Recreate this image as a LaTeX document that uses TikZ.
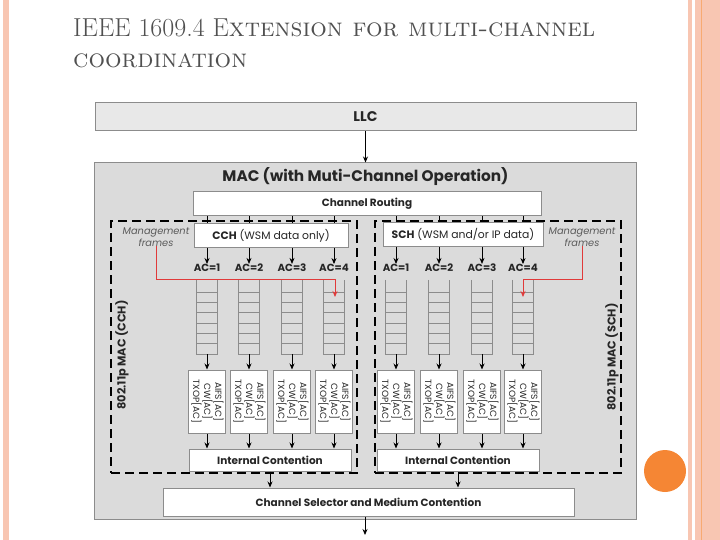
\documentclass[tikz,border=0pt]{standalone}
\usepackage{fontspec}
\usepackage{graphicx}
\newfontfamily\diagfont{Poppins}
\usepackage{tikz}
\usetikzlibrary{arrows.meta, positioning}
\definecolor{salmon}{HTML}{F8C6B2}
\definecolor{dotorange}{HTML}{F58634}
\definecolor{macgray}{HTML}{DBDBDB}
\definecolor{llcgray}{HTML}{E8E8E8}
\definecolor{edgegray}{HTML}{8C8C8C}
\definecolor{titlegray}{HTML}{505050}
\definecolor{mgmtred}{HTML}{E03A3A}
\tikzset{
    layer/.style={
        rectangle, draw=edgegray, fill=llcgray, line width=1pt, inner sep=0pt,
        minimum width=541pt, minimum height=28pt, text=black!85,
        font=\diagfont\bfseries\fontsize{14}{16}\selectfont
    },
    whitebox/.style={
        rectangle, draw=edgegray, fill=white, line width=1pt, inner sep=0pt,
        text=black!85, font=\diagfont\bfseries\fontsize{10.5}{12}\selectfont
    },
    chanbox/.style={whitebox, font=\diagfont\fontsize{10.8}{12}\selectfont},
    parambox/.style={whitebox, minimum width=37pt, minimum height=63pt,
        font=\diagfont\fontsize{9}{8.6}\selectfont},
    queue/.style={rectangle, inner sep=0pt, minimum width=21pt, minimum height=74pt},
    queueline/.style={draw=edgegray, line width=0.8pt},
    acnode/.style={inner sep=0pt, text=black!85, font=\diagfont\bfseries\fontsize{10.3}{12}\selectfont},
    mgmt/.style={inner sep=0pt, align=center, text=black!65, font=\diagfont\itshape\fontsize{9.8}{11.5}\selectfont},
    sidelabel/.style={rotate=90, inner sep=0pt, text=black!85, font=\diagfont\bfseries\fontsize{11.3}{13}\selectfont},
    chframe/.style={rectangle, draw=black, dash pattern=on 9pt off 5pt, line width=1.6pt,
        minimum width=246pt, minimum height=252pt, inner sep=0pt},
    arrow/.style={line width=0.8pt, -{Stealth[length=6pt,width=5pt]}},
    redarrow/.style={arrow, draw=mgmtred}
}

\begin{document}
\begin{tikzpicture}[x=1pt, y=-1pt]
    \useasboundingbox (0,0) rectangle (720,540);
    % slide decoration
    \fill[salmon] (3,0) rectangle (9,540);
    \fill[salmon] (688,0) rectangle (720,540);
    \fill[white] (692,0) rectangle (695,540);
    \draw[dotorange!70, line width=0.8pt] (701,0) -- (701,540);
    \fill[dotorange] (665,471) circle (21);
    \node (title) [anchor=base west, inner sep=0pt, text=titlegray, font=\fontsize{26}{30}\selectfont]
        at (73,37) {IEEE 1609.4 E\textsc{xtension for multi-channel}};
    \node (title2) [anchor=base west, inner sep=0pt, text=titlegray, font=\fontsize{26}{30}\selectfont]
        at (73,68) {\textsc{coordination}};

    % layers
    \node (llc) [layer] at (365.5,117) {LLC};
    \node (mac) [layer, fill=macgray, minimum width=542pt, minimum height=356pt] at (365.5,341) {};
    \node (mactitle) [inner sep=0pt, text=black!85, font=\diagfont\bfseries\fontsize{15.3}{17}\selectfont]
        at (365.5,177) {MAC (with Muti-Channel Operation)};
    \draw [arrow] (llc) -- (mac);
    \node (route) [whitebox, minimum width=348pt, minimum height=24pt] at (367,204) {Channel Routing};
    \node (cchframe) [chframe] at (234,347) {};
    \node (schframe) [chframe] at (498,347) {};
    \node (cchlabel) [sidelabel] at (122,355) {802.11p MAC (CCH)};
    \node (schlabel) [sidelabel] at (612,357) {802.11p MAC (SCH)};
    \node (icL) [whitebox, minimum width=162pt, minimum height=22pt] at (270,460) {Internal Contention};
    \node (icR) [whitebox, minimum width=162pt, minimum height=22pt] at (458,460) {Internal Contention};
    \node (csel) [whitebox, minimum width=411pt, minimum height=28pt] at (368.5,502) {Channel Selector and Medium Contention};
    \coordinate (out) at (365,535);

    % access categories, queues and EDCA parameters
    \foreach \cx/\n/\ac/\ic in {207/1/1/icL, 249/2/2/icL, 292/3/3/icL, 334/4/4/icL,
                               396/5/1/icR, 439/6/2/icR, 482/7/3/icR, 523/8/4/icR} {
        \node (ac\n) [acnode] at (\cx,268) {AC=\ac};
        \draw [arrow] (route.south -| ac\n) -- (ac\n.north);
        \node (q\n) [queue] at (\cx,317) {};
        \draw [queueline] (q\n.north west) -- (q\n.south west) -- (q\n.south east) -- (q\n.north east);
        \foreach \k in {0,...,5}
            \draw [queueline] (\cx-10.5,292+\k*10.3) -- ++(21,0);
        \node (p\n) [parambox] at (\cx,401.5)
            {\rotatebox[origin=c]{-90}{\begin{tabular}{@{}c@{}}AIFS[AC]\\CW[AC]\\TXOP[AC]\end{tabular}}};
        \draw [arrow] (q\n.south) -- (p\n.north);
        \draw [arrow] (p\n.south) -- (p\n.south |- \ic.north);
    }

    \node (cch) [chanbox, minimum width=154pt, minimum height=23pt] at (271,235.5) {\textbf{CCH} (WSM data only)};
    \node (sch) [chanbox, minimum width=160pt, minimum height=23pt] at (463,234.5) {\textbf{SCH} (WSM and/or IP data)};

    % management frames
    \node (mgmtL) [mgmt] at (156,237) {Management\\frames};
    \node (mgmtR) [mgmt] at (582,237) {Management\\frames};
    \coordinate (bendL) at (335,279);
    \coordinate (tipL) at (335,297);
    \coordinate (bendR) at (523,279);
    \coordinate (tipR) at (523,297);
    \draw [redarrow] (mgmtL.south) |- (bendL) -- (tipL);
    \draw [redarrow] (mgmtR.south) |- (bendR) -- (tipR);

    \draw [arrow] (icL.south) -- (icL.south |- csel.north);
    \draw [arrow] (icR.south) -- (icR.south |- csel.north);
    \draw [arrow] (csel.south -| out) -- (out);
\end{tikzpicture}
\end{document}
